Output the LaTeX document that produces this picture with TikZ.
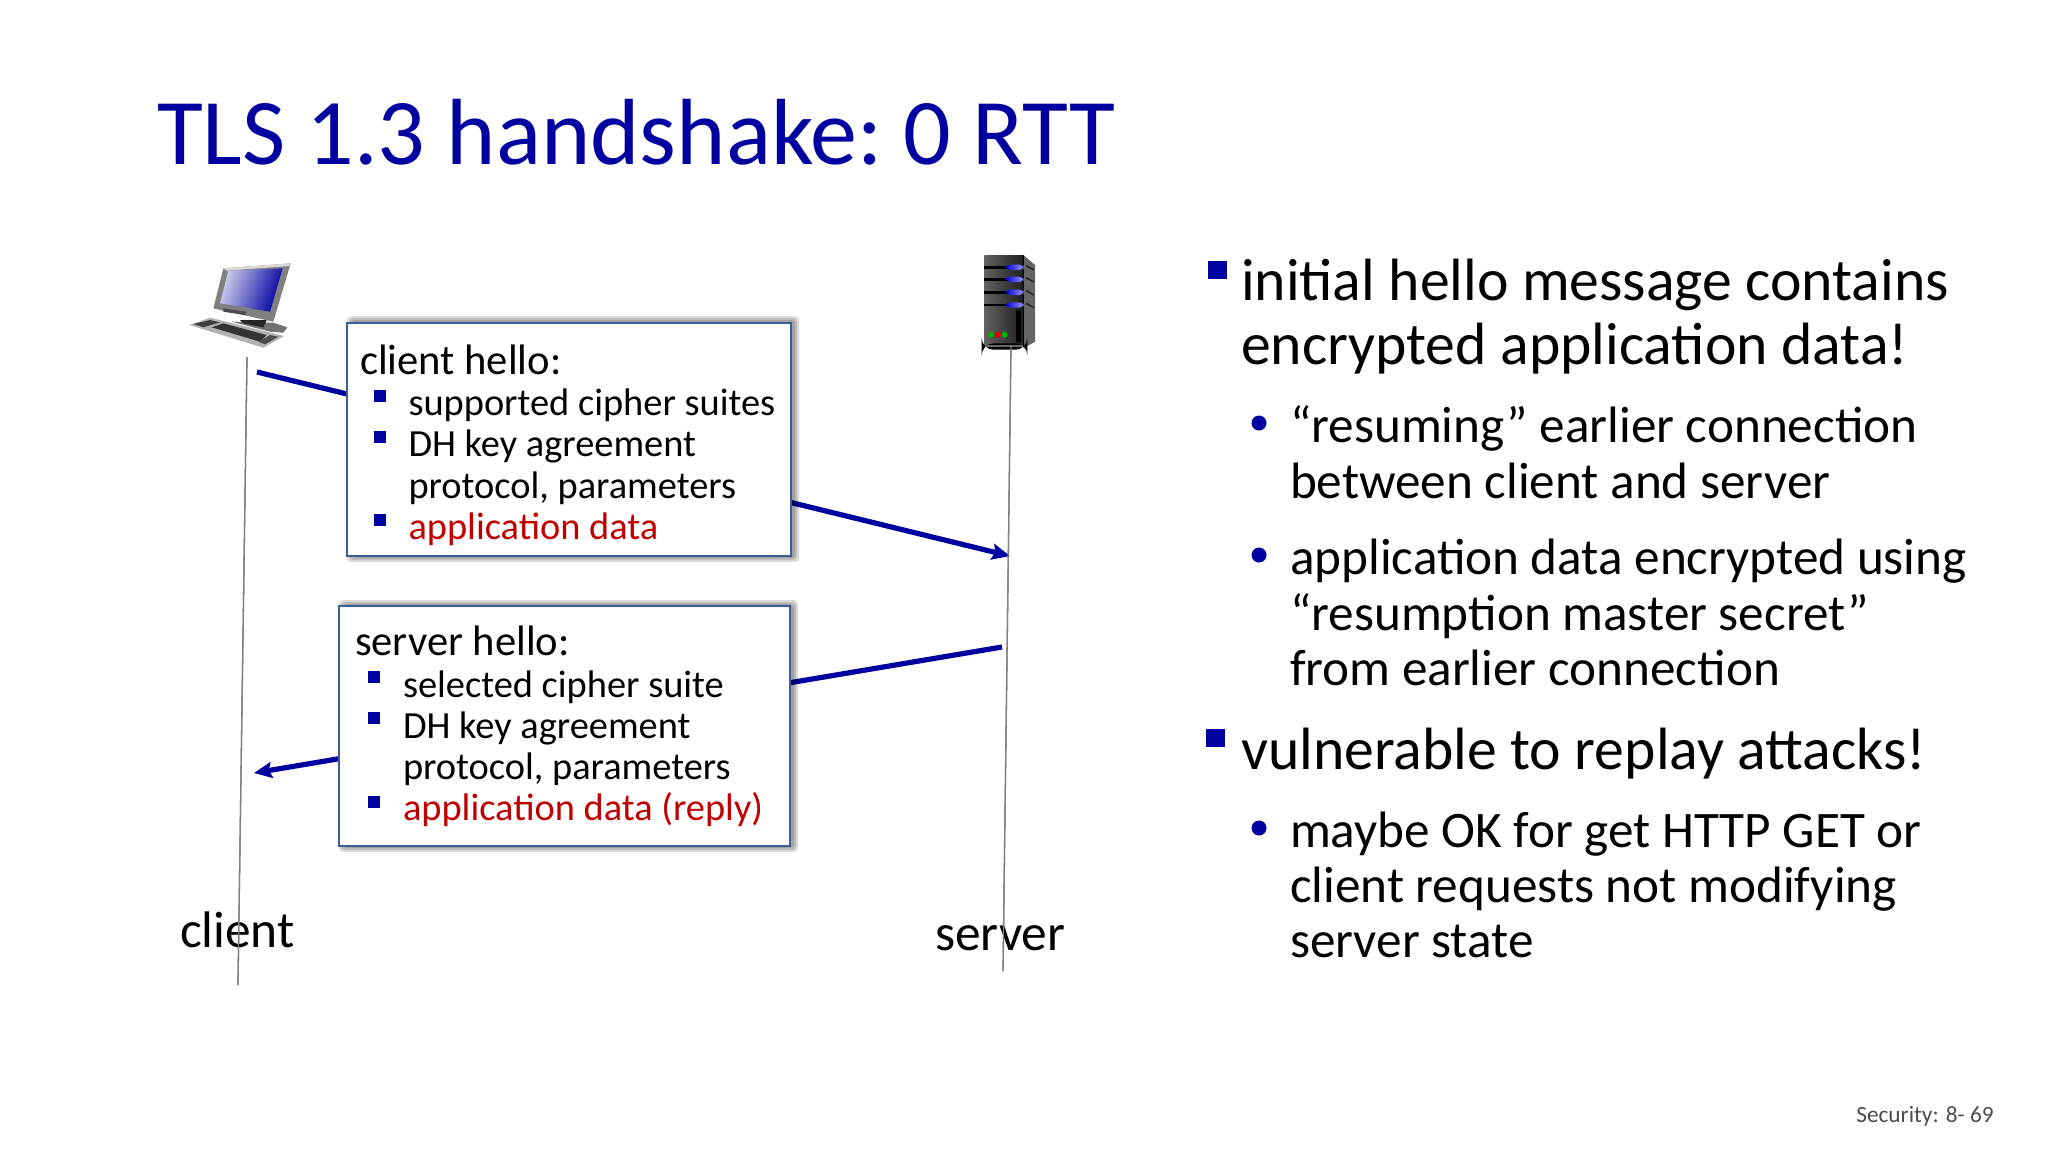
\documentclass[tikz,border=0pt]{standalone}
\usepackage{fontspec}
\setmainfont{Carlito}
\definecolor{navy}{HTML}{0000A0}
\definecolor{appred}{HTML}{C00000}
\definecolor{boxline}{HTML}{3A5E96}
\usetikzlibrary{arrows.meta}
\tikzset{
  txt/.style={anchor=base west,inner sep=0pt,outer sep=0pt,text=black},
  titletxt/.style={txt,text=navy,font=\fontsize{47}{47}\selectfont},
  lead/.style={txt,font=\fontsize{29.85}{30}\selectfont},
  subl/.style={txt,font=\fontsize{25.6}{26}\selectfont},
  boxt/.style={txt,font=\fontsize{21.3}{22}\selectfont},
  boxs/.style={txt,font=\fontsize{19.2}{20}\selectfont},
  apptxt/.style={text=appred},
  endl/.style={txt,font=\fontsize{25.7}{26}\selectfont},
  foot/.style={anchor=base east,inner sep=0pt,text=black!70,font=\fontsize{11.65}{12}\selectfont},
  msgbox/.style={draw=boxline,line width=1.2pt,fill=white},
  life/.style={draw=black!50,line width=0.65pt},
  msg/.style={draw=navy,line width=2.6pt},
  sq/.style={fill=navy,draw=none},
  shade1/.style={fill=black,fill opacity=0.14,draw=none,rounded corners=2pt},
}
\begin{document}
\begin{tikzpicture}[x=0.5pt,y=-0.5pt]
\useasboundingbox (0,0) rectangle (2048,1152);
\fill[white] (0,0) rectangle (2048,1152);
\node[titletxt] (title) at (157,164) {TLS 1.3 handshake:\kern-4pt{} 0 RTT};

% coordinates of lifelines and messages
\coordinate (cTop) at (247,357);
\coordinate (cBot) at (238,985);
\coordinate (sTop) at (1011,345);
\coordinate (sBot) at (1003,971);
\coordinate (m1a) at (257,372);
\coordinate (m1b) at (1010,556);
\coordinate (m2a) at (1002,647);
\coordinate (m2b) at (254,773);

\draw[life] (cTop) -- (cBot);
\draw[life] (sTop) -- (sBot);
\draw[msg,-{Stealth[length=9pt,width=8pt,inset=1.5pt]}] (m1a) -- (m1b);
\draw[msg,-{Stealth[length=9pt,width=8pt,inset=1.5pt]}] (m2a) -- (m2b);

% computer icon
\begin{scope}[shift={(160,240)},x=0.1667pt,y=-0.1667pt]
  \fill[black!30] (88,255) -- (150,233) -- (372,288) -- (310,323) -- cycle;
  \fill[black!75] (100,252) -- (150,240) -- (180,247) -- (130,262) -- cycle;
  \fill[black!80] (155,262) -- (190,250) -- (320,285) -- (300,305) -- cycle;
  \fill[black!70] (295,305) -- (330,285) -- (355,290) -- (315,313) -- cycle;
  \fill[black!55] (215,245) -- (340,248) -- (382,262) -- (370,278) -- (330,275) -- cycle;
  \fill[black!85] (240,240) -- (320,240) -- (310,262) -- (250,250) -- cycle;
  \fill[black!50] (190,85) -- (392,70) -- (340,245) -- (160,205) -- cycle;
  \fill[black!15] (190,85) -- (392,70) -- (388,78) -- (200,92) -- cycle;
  \shade[shading=axis,left color=white!80!navy,right color=navy,shading angle=70] (205,92) -- (368,85) -- (330,215) -- (180,190) -- cycle;
  \fill[black!70] (190,205) -- (260,215) -- (255,225) -- (190,215) -- cycle;
\end{scope}

% server icon
\begin{scope}[shift={(940,240)},x=0.1667pt,y=-0.1667pt]
  \fill[black!60] (250,45) -- (285,75) -- (285,305) -- (250,325) -- cycle;
  \shade[left color=black!62,right color=black!88] (133,45) rectangle (250,315);
  \draw[black,line width=0.8pt] (250,45) -- (250,320);
  \foreach \yy in {82,118,157,195}{
    \fill[black] (133,\yy-4) rectangle (250,\yy+4);
    \shade[left color=blue!85!black,right color=blue!40!white,rounded corners=2pt] (197,\yy-8) rectangle (250,\yy+8);
    \fill[black!85] (258,\yy-8) -- (282,\yy+6) -- (282,\yy+10) -- (258,\yy-2) -- cycle;
  }
  \fill[black] (228,210) rectangle (242,305);
  \fill[green!70!black] (153,284) circle[radius=9];
  \fill[red!90!black] (174,284) circle[radius=9];
  \fill[green!70!black] (194,284) circle[radius=9];
  \fill[black] (125,310) [rounded corners=6pt] rectangle (262,329);
  \fill[black!60] (135,316) rectangle (250,320);
\end{scope}

% client box
\foreach \g in {0,2,4}{
  \fill[shade1] (351-\g,320-\g) rectangle (795+\g,558+\g);
}
\draw[msgbox] (347,323) rectangle (791,556);
\node[boxt] (ch) at (360,374) {client hello:};
\fill[sq] (374,390) rectangle (386,402);
\node[boxs] (c1) at (408.5,415) {supported cipher suites};
\fill[sq] (374,431) rectangle (386,443);
\node[boxs] (c2) at (408.5,456) {DH key agreement};
\node[boxs] (c3) at (408.5,498) {protocol, parameters};
\fill[sq] (374,514) rectangle (386,526);
\node[boxs,apptxt] (c4) at (408.5,539) {application data};

% server box
\foreach \g in {0,2,4}{
  \fill[shade1] (343-\g,604-\g) rectangle (794+\g,848+\g);
}
\draw[msgbox] (339,606) rectangle (790,846);
\node[boxt] (sh) at (355,655) {server hello:};
\fill[sq] (368,671) rectangle (380,683);
\node[boxs] (s1) at (403,697) {selected cipher suite};
\fill[sq] (368,712) rectangle (380,724);
\node[boxs] (s2) at (403,738) {DH key agreement};
\node[boxs] (s3) at (403,779) {protocol, parameters};
\fill[sq] (368,796) rectangle (380,808);
\node[boxs,apptxt] (s4) at (403,820) {application data (reply)};

% end labels
\node[endl] (cl) at (180,947) {client};
\node[endl] (sv) at (935,950) {server};
\draw[life] (cTop) -- (cBot);
\draw[life] (sTop) -- (sBot);

% right column
\fill[sq] (1208,261) rectangle (1227,279);
\node[lead] (r1) at (1241,300) {initial hello message contains};
\node[lead] (r2) at (1241,364) {encrypted application data!};
\fill[navy] (1259,423) circle[radius=7.5];
\node[subl] (r3) at (1290,442) {“resuming” earlier connection};
\node[subl] (r4) at (1290,498) {between client and server};
\fill[navy] (1259,555) circle[radius=7.5];
\node[subl] (r5) at (1290,574) {application data encrypted using};
\node[subl] (r6) at (1290,630) {“resumption master secret”};
\node[subl] (r7) at (1290,685) {from earlier connection};
\fill[sq] (1206,729) rectangle (1225,747);
\node[lead] (r8) at (1241,769) {vulnerable to replay attacks!};
\fill[navy] (1259,828) circle[radius=7.5];
\node[subl] (r9) at (1290,847) {maybe OK for get HTTP GET or};
\node[subl] (r10) at (1290,902) {client requests not modifying};
\node[subl] (r11) at (1290,957) {server state};

\node[foot] (pg) at (1994,1122) {Security: 8- 69};
\end{tikzpicture}
\end{document}
